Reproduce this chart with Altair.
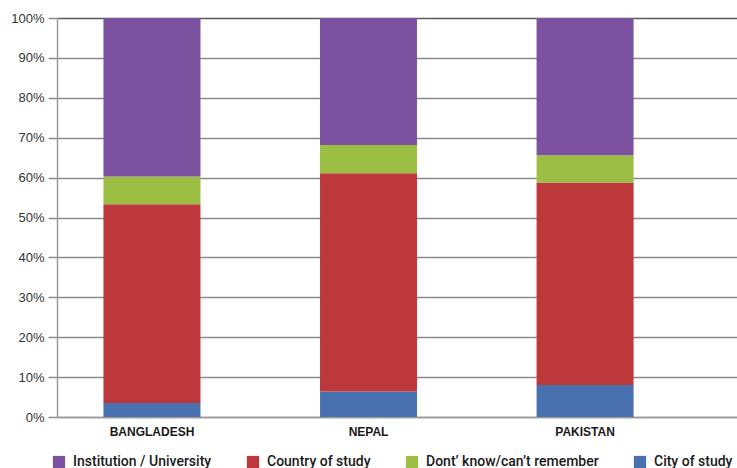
import altair as alt
import pandas as pd

# Survey answers per country, in percent of respondents
countries = ["BANGLADESH", "NEPAL", "PAKISTAN"]
city_of_study = [3.5, 6.4, 8.0]
country_of_study = [49.8, 54.7, 50.8]
dont_know = [7.0, 7.1, 6.8]
institution = [39.7, 31.8, 34.4]

# Legend order (left to right) and stacking order (bottom to top)
legend_order = [
    "Institution / University",
    "Country of study",
    "Dont\u2019 know/can\u2019t remember",
    "City of study",
]
stack_order = [
    "City of study",
    "Country of study",
    "Dont\u2019 know/can\u2019t remember",
    "Institution / University",
]
palette = ["#7B51A0", "#BC383A", "#9DBE45", "#4A71AF"]

series = {
    "City of study": city_of_study,
    "Country of study": country_of_study,
    "Dont\u2019 know/can\u2019t remember": dont_know,
    "Institution / University": institution,
}

rows = []
for name, values in series.items():
    for c, v in zip(countries, values):
        rows.append({"country": c, "answer": name, "share": v,
                     "rank": stack_order.index(name)})
df = pd.DataFrame(rows)

chart = (
    alt.Chart(df)
    .mark_bar()
    .encode(
        x=alt.X(
            "country:N",
            sort=countries,
            scale=alt.Scale(paddingInner=0.552, paddingOuter=0.346, align=0.31),
            axis=alt.Axis(
                title=None,
                labelAngle=0,
                labelFont="Liberation Sans",
                labelFontSize=12,
                labelFontWeight="bold",
                labelColor="#1a1a1a",
                labelPadding=9,
                ticks=False,
                domainColor="#9a9a9a",
                domainWidth=1.5,
            ),
        ),
        y=alt.Y(
            "share:Q",
            stack="zero",
            scale=alt.Scale(domain=[0, 100], nice=False),
            axis=alt.Axis(
                title=None,
                values=list(range(0, 101, 10)),
                labelExpr="datum.value + '%'",
                labelFont="Liberation Sans",
                labelFontSize=13,
                labelColor="#333333",
                labelPadding=4,
                tickSize=9,
                tickColor="#8a8a8a",
                tickWidth=1.5,
                domainColor="#9a9a9a",
                domainWidth=1.5,
                gridColor={
                    "condition": {"test": "datum.value === 100", "value": "#5a5a5a"},
                    "value": "#8a8a8a",
                },
                gridWidth=1.5,
            ),
        ),
        color=alt.Color(
            "answer:N",
            scale=alt.Scale(domain=legend_order, range=palette),
            legend=alt.Legend(
                title=None,
                orient="none",
                direction="horizontal",
                legendX=-5,
                legendY=437,
                columns=4,
                columnPadding=34,
                symbolType="square",
                symbolSize=150,
                symbolStrokeWidth=0,
                symbolOpacity=1,
                labelFont="Roboto",
                labelFontSize=14,
                labelFontWeight=500,
                labelColor="#1a1a1a",
                labelOffset=7,
                labelLimit=400,
            ),
        ),
        order=alt.Order("rank:Q", sort="ascending"),
    )
    .properties(
        width=680,
        height=399,
        autosize=alt.AutoSizeParams(type="none"),
        padding={"left": 57, "top": 18, "right": 0, "bottom": 51},
    )
    .configure_view(stroke=None)
    .configure(background="white")
)

chart.save("out.html", embed_options={"renderer": "svg", "actions": False})
